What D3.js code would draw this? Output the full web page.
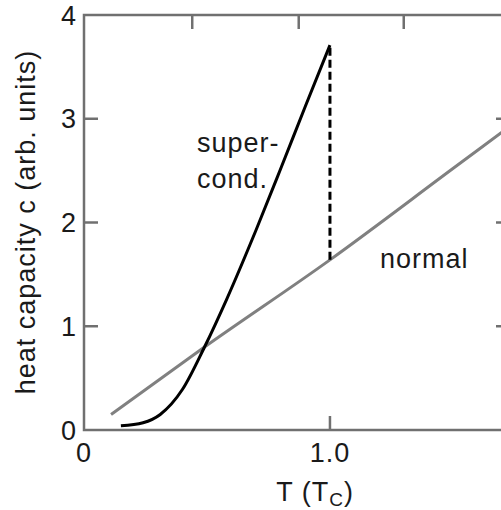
<!DOCTYPE html>
<html>
<head>
<meta charset="utf-8">
<script src="https://cdn.jsdelivr.net/npm/d3@7"></script>
<style>
  body { margin: 0; background: #fff; }
  svg { display: block; }
  text { font-family: "Liberation Sans", Arial, sans-serif; fill: #1a1a1a; letter-spacing: 1px; }
</style>
</head>
<body>
<div id="chart"></div>
<script>
// data
var normalT = [0.11, 0.49, 1.0, 1.5, 1.75];
var normalC = [0.15, 0.80, 1.64, 2.52, 2.96];

var superT = [0.15, 0.24, 0.31, 0.40, 0.49, 0.58, 0.70, 0.80, 0.90, 1.0];
var superC = [0.04, 0.07, 0.15, 0.39, 0.80, 1.26, 1.93, 2.52, 3.12, 3.71];

var jumpT = 1.0;
var jumpC = [1.64, 3.71];

var yTicks = [0, 1, 2, 3, 4];
var xTickLabels = ["0", "1.0"];
var xTickValues = [0, 1.0];
var topTicks = [0.44, 0.873, 1.30];

// Set up our chart
var svgWidth = 501;
var svgHeight = 510;

var margin = { top: 15, right: -9, bottom: 80, left: 84 };

var chartWidth = svgWidth - margin.left - margin.right;
var chartHeight = svgHeight - margin.top - margin.bottom;

var svg = d3.select("#chart")
  .append("svg")
  .attr("width", svgWidth)
  .attr("height", svgHeight);

var chart = svg.append("g")
  .attr("transform", `translate(${margin.left}, ${margin.top})`);

var x = d3.scaleLinear().domain([0, 1.732]).range([0, chartWidth]);
var y = d3.scaleLinear().domain([0, 4]).range([chartHeight, 0]);

var axisColor = "#707070";
var fs = "27px";

// clip so the lines stay inside the frame
chart.append("clipPath").attr("id", "clip")
  .append("rect").attr("width", chartWidth).attr("height", chartHeight);

var normal = normalT.map(function(t, i) { return { t: t, c: normalC[i] }; });
var sc = superT.map(function(t, i) { return { t: t, c: superC[i] }; });

var line = d3.line()
  .x(function(d) { return x(d.t); })
  .y(function(d) { return y(d.c); })
  .curve(d3.curveMonotoneX);

// Normal state line
chart.append("path")
  .datum(normal)
  .attr("clip-path", "url(#clip)")
  .attr("d", line)
  .attr("fill", "none")
  .attr("stroke", "#808080")
  .attr("stroke-width", 3);

// superconducting curve
chart.append("path")
  .datum(sc)
  .attr("d", line)
  .attr("fill", "none")
  .attr("stroke", "#000")
  .attr("stroke-width", 3)
  .attr("stroke-linejoin", "round");

// jump at Tc
chart.append("line")
  .attr("x1", x(jumpT)).attr("x2", x(jumpT))
  .attr("y1", y(jumpC[0])).attr("y2", y(jumpC[1]))
  .attr("stroke", "#000")
  .attr("stroke-width", 3)
  .attr("stroke-dasharray", "8,4");

// frame
chart.append("rect")
  .attr("width", chartWidth)
  .attr("height", chartHeight)
  .attr("fill", "none")
  .attr("stroke", axisColor)
  .attr("stroke-width", 2.5);

// left axis ticks (inside)
chart.selectAll(".ltick")
  .data([1, 2, 3])
  .enter().append("line")
    .attr("x1", 0).attr("x2", 14)
    .attr("y1", function(d) { return y(d); })
    .attr("y2", function(d) { return y(d); })
    .attr("stroke", axisColor).attr("stroke-width", 2.5);

// right axis ticks (inside)
chart.selectAll(".rtick")
  .data([1, 2, 3])
  .enter().append("line")
    .attr("x1", chartWidth - 14).attr("x2", chartWidth)
    .attr("y1", function(d) { return y(d); })
    .attr("y2", function(d) { return y(d); })
    .attr("stroke", axisColor).attr("stroke-width", 2.5);

// top ticks
chart.selectAll(".ttick")
  .data(topTicks)
  .enter().append("line")
    .attr("x1", function(d) { return x(d); })
    .attr("x2", function(d) { return x(d); })
    .attr("y1", 0).attr("y2", 14)
    .attr("stroke", axisColor).attr("stroke-width", 2.5);

// bottom tick at 1.0
chart.append("line")
  .attr("x1", x(1.0)).attr("x2", x(1.0))
  .attr("y1", chartHeight).attr("y2", chartHeight - 14)
  .attr("stroke", axisColor).attr("stroke-width", 2.5);

// y tick labels
chart.selectAll(".ylab")
  .data(yTicks)
  .enter().append("text")
    .attr("x", -7)
    .attr("y", function(d) { return y(d); })
    .attr("dy", "0.36em")
    .style("text-anchor", "end")
    .style("font-size", fs)
    .text(function(d) { return d; });

// x tick labels
chart.selectAll(".xlab")
  .data(xTickValues)
  .enter().append("text")
    .attr("x", function(d) { return x(d); })
    .attr("y", chartHeight + 32)
    .style("text-anchor", "middle")
    .style("font-size", fs)
    .text(function(d, i) { return xTickLabels[i]; });

// Text for the y-axis
chart.append("text")
  .attr("transform", "rotate(-90)")
  .attr("x", -207)
  .attr("y", 35 - margin.left)
  .style("text-anchor", "middle")
  .style("font-size", fs)
  .text("heat capacity c (arb. units)");

// Text for the x-axis
var xl = chart.append("text")
  .attr("x", x(0.94))
  .attr("y", chartHeight + 71)
  .style("text-anchor", "middle")
  .style("font-size", fs);
xl.append("tspan").text("T (T");
xl.append("tspan").attr("dy", 5).style("font-size", "19px").text("C");
xl.append("tspan").attr("dy", -5).text(")");

// curve labels
chart.append("text")
  .attr("x", x(0.459)).attr("y", y(2.68))
  .style("font-size", fs)
  .text("super-");
chart.append("text")
  .attr("x", x(0.459)).attr("y", y(2.33))
  .style("font-size", fs)
  .text("cond.");
chart.append("text")
  .attr("x", x(1.203)).attr("y", y(1.56))
  .style("font-size", fs)
  .text("normal");
</script>
</body>
</html>
